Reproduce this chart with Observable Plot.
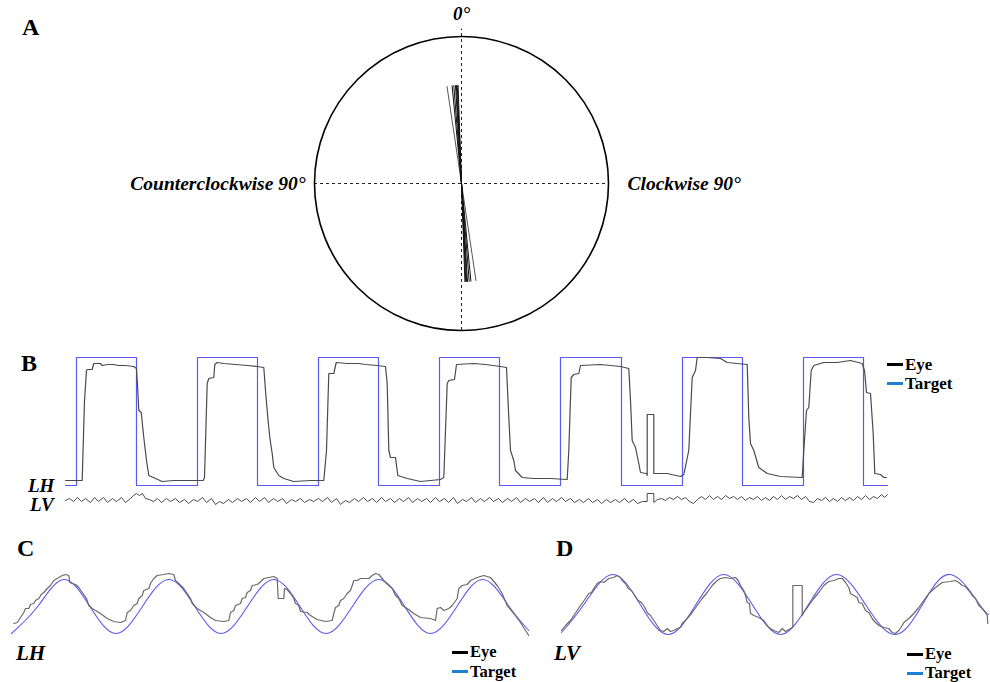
<!DOCTYPE html>
<html><head><meta charset="utf-8">
<script src="https://cdn.jsdelivr.net/npm/d3@7"></script>
<script src="https://cdn.jsdelivr.net/npm/@observablehq/plot@0.6"></script>
<style>
body{margin:0;background:#fff;}
#fig{position:relative;width:990px;height:682px;overflow:hidden;font-family:"Liberation Serif","Times New Roman",serif;color:#000;}
#fig svg{position:absolute;overflow:visible;}
</style></head><body><div id="fig"></div>
<script>
// ---------- DATA ----------
// Panel A: orientation of each recorded line (degrees from vertical; negative = counterclockwise)
const lineAnglesDeg = [-8.5, -5.5, -4.5, -3.5, -3, -2.5, -2];
const lineHalfLength = 0.67; // fraction of circle radius
const axisLabelsA = ["0°", "Counterclockwise 90°", "Clockwise 90°"];

// Panel B: square-wave target (time in samples, position in a.u.)
const targetBTimes  = [0, 11, 71, 132, 192, 253, 313, 374, 434, 495, 556, 617, 677, 738, 798, 822];
const targetBLevels = [-64, 64, -64, 64, -64, 64, -64, 64, -64, 64, -64, 64, -64, 64, -64, -64];

// Panel B: eye, horizontal channel (LH) [time, position]
const eyeBLH = [[0,-59],[16.7,-59],[19,21],[21,51],[21.7,52],[26.7,52],[28.3,58],[35,58],[36.7,56],[42,57],[48.3,57],[53,56],[60,56],[68.3,55],[71,53],[72.3,31],[73.3,11],[75.7,9],[78.3,-16],[81,-39],[83.3,-54],[90,-57],[96.7,-60],[108.3,-59],[121.7,-59],[131,-59],[137.7,-59],[139,-56],[141.7,38],[143.3,43],[148.3,44],[149.3,57],[151.7,59],[158.3,58],[170,57],[181.7,56],[191.7,55],[198.3,54],[200,31],[202.3,4],[204.3,-16],[206.7,-32],[208.3,-46],[213.3,-54],[218.3,-57],[228.3,-60],[245,-59],[258.3,-59],[261,-29],[263.3,48],[268.3,48],[270.7,59],[281.7,58],[293.3,58],[300,57],[311.7,56],[320,55],[321.7,38],[323.3,-29],[325,-36],[330,-36],[332.3,-54],[341.7,-57],[355,-60],[375,-58],[378.3,-56],[381.7,38],[383.3,41],[389,42],[391,57],[408.3,58],[420,57],[435,55],[441,54],[443.3,4],[445,-29],[448.3,-39],[450,-49],[456.7,-56],[468.3,-57],[485,-57],[501.7,-58],[503.3,-29],[505.7,44],[508.3,47],[513.3,48],[515,56],[535,57],[545,56],[555,55],[563.3,53],[565,21],[566.7,-19],[570,-26],[573.3,-42],[575,-51],[581,-52],[581.7,-54],[581.7,7],[588.3,7],[588.3,-52],[601.7,-52],[615,-55],[618.3,-53],[623.3,-29],[626.7,44],[630,51],[631.7,64],[641.7,64],[655,63],[661.7,59],[681.7,57],[683.3,4],[685,-22],[688.3,-29],[693.3,-46],[701.7,-52],[715,-55],[736.7,-56],[738.3,-29],[741,11],[743.3,14],[745.7,51],[748.3,56],[758.3,59],[771.7,59],[785,61],[796.7,58],[799,51],[801,29],[805,28],[807.7,-12],[809.3,-52],[815,-53],[818.3,-56],[821,-56]];

// Panel B: eye, vertical channel (LV) [time, position]
const eyeBLV = [[0,0],[4,2],[8,-1],[12,3],[16,-1],[20,2],[25,-2],[29,3],[33,-1],[38,3],[42,-2],[47,2],[51,-1],[56,3],[60,-2],[65,2],[68,5],[71,7],[74,5],[77,7],[80,2],[84,1],[88,-1],[92,2],[96,-2],[101,2],[105,-1],[110,2],[114,-2],[119,1],[123,-3],[128,1],[132,-1],[137,3],[141,-2],[146,2],[150,-4],[154,-1],[158,-3],[163,1],[167,-2],[172,2],[176,-1],[181,2],[185,-2],[190,3],[194,-1],[199,3],[203,-2],[208,2],[212,-1],[217,2],[221,-3],[226,1],[230,-1],[235,2],[239,-2],[244,1],[248,-1],[253,2],[257,-1],[262,3],[266,-2],[271,2],[275,-4],[280,0],[284,-2],[289,2],[293,-1],[298,3],[302,-1],[307,2],[311,-2],[316,3],[320,-1],[325,2],[329,-2],[334,2],[338,-1],[343,3],[347,-2],[352,2],[356,-1],[361,2],[365,-2],[370,3],[374,-1],[379,2],[383,-2],[388,3],[392,-3],[397,1],[401,-1],[406,3],[410,-2],[415,2],[419,-1],[424,3],[428,-1],[433,2],[437,-2],[442,2],[446,-1],[451,3],[455,-2],[460,2],[464,-1],[469,2],[473,-2],[478,3],[482,-2],[487,2],[491,-1],[496,3],[500,-1],[505,2],[509,-2],[514,1],[518,-2],[523,2],[527,-2],[532,1],[536,-3],[541,1],[545,-2],[550,1],[554,-2],[559,2],[563,-2],[568,1],[572,-3],[577,-1],[581.7,-1],[581.7,7],[588.3,7],[588.3,-2],[592,1],[596,2],[600,0],[604,3],[608,1],[612,4],[616,1],[620,3],[624,-1],[628,-3],[632,1],[636,4],[640,1],[644,5],[648,1],[652,4],[656,1],[660,5],[664,2],[668,4],[672,1],[676,4],[680,0],[684,3],[688,1],[692,4],[696,0],[700,3],[704,0],[708,4],[712,1],[716,5],[720,1],[724,4],[728,2],[732,5],[736,1],[740,4],[744,-1],[748,-2],[752,2],[756,0],[760,3],[764,-1],[768,2],[772,-1],[776,3],[780,0],[784,3],[788,0],[792,4],[796,1],[800,5],[804,1],[808,4],[812,2],[816,6],[819,3],[822,6]];

// Panel C: sinusoidal target, horizontal (key points: troughs, crossings, peaks)
const targetCTimes  = [1, 27.2, 53.3, 79.4, 105.5, 131.9, 158.3, 184.4, 210.5, 236.9, 263.3, 289.4, 315.5, 341.9, 368.3, 394.2, 420, 446.4, 472.7, 498.6, 518.3];
const targetCValues = [-27, 0, 27, 0, -27, 0, 27, 0, -27, 0, 27, 0, -27, 0, 27, 0, -27, 0, 27, 0, -24];
const eyeCLH = [[3.3,-17],[6.7,-16],[10,-11],[13.3,-6],[15,-2],[18.3,-2],[20,2],[23.3,3],[25,6],[28.3,8],[30.7,12],[33.3,14],[36.7,18],[40,21],[43.3,26],[46.7,28],[51.7,31],[55,32],[58.3,31],[59.3,24],[61.7,23],[65,22],[68.3,19],[71.7,14],[73.3,12],[76,8],[78.3,1],[81.7,-2],[85,-4],[90,-7],[96.7,-12],[103.3,-15],[110,-16],[115,-14],[116.7,-6],[120,-4],[123.3,1],[126.7,3],[128.3,8],[131.7,11],[133.3,16],[138.3,18],[140,23],[143.3,28],[146.7,31],[153.3,32],[158.3,33],[163.3,32],[165,26],[168.3,23],[173.3,18],[176.7,13],[180,8],[181.7,3],[186.7,-2],[193.3,-6],[200,-11],[205,-14],[213.3,-15],[218.3,-14],[220,-6],[223.3,-4],[225,1],[230,3],[231.7,8],[235,9],[236.7,14],[240,16],[241.7,21],[246.7,22],[249.3,24],[253.3,28],[258.3,29],[263.3,30],[266.7,28],[267.7,8],[273.3,8],[274,18],[276.7,17],[280,13],[283.3,8],[285,3],[288.3,1],[290,-5],[296.7,-6],[300,-9],[306.7,-13],[315,-15],[321.7,-14],[323.3,-7],[325,-1],[328.3,1],[330,6],[333.3,8],[336.7,13],[340,16],[341.7,21],[343.3,26],[346.7,26],[350,28],[358.3,28],[361.7,31],[365,33],[368.3,32],[371.7,28],[375,24],[378.3,21],[381.7,18],[385,11],[388.3,8],[391.7,1],[396.7,-2],[403.3,-7],[410,-11],[420,-12],[425,-14],[426.7,-2],[430,-1],[433.3,-4],[438.3,-2],[441.7,1],[446.7,8],[448.3,18],[451.7,21],[456.7,22],[460,26],[466.7,29],[473.3,31],[480,29],[486.7,21],[491.7,13],[496.7,1],[503.3,-7],[510,-16],[515,-24],[518.3,-29]];

// Panel D: sinusoidal target, vertical
const targetDTimes  = [6, 28.4, 56.7, 84.7, 112.7, 140.5, 168.3, 196.7, 225, 253, 281, 310, 339.3, 367, 395, 424, 433.3];
const targetDValues = [-28, 0, 30, 0, -30, 0, 30, 0, -30, 0, 30, 0, -30, 0, 30, 0, -10];
const eyeDLV = [[6,-26],[10,-21],[15,-16],[18.3,-11],[21.7,-6],[25,-1],[30,6],[33.3,11],[36,12],[38.3,16],[41.7,21],[45,23],[48.3,22],[53.3,26],[58.3,27],[61.7,29],[65,27],[66.7,24],[70,21],[72.7,16],[76,14],[79.3,9],[82.7,4],[86,2],[89.3,-3],[91.7,-8],[95,-11],[98.3,-16],[101.7,-21],[105,-26],[108.3,-27],[111.7,-24],[115,-27],[118.3,-26],[121.7,-24],[125,-23],[126.7,-19],[131.7,-14],[136.7,-8],[141.7,-1],[146.7,6],[151.7,12],[156.7,19],[161.7,24],[165,26],[170,27],[175,26],[180,27],[182.7,24],[185,19],[188.3,14],[190,9],[191.7,2],[194,1],[195,-9],[198.3,-11],[203.3,-13],[208.3,-16],[213.3,-23],[218.3,-26],[223.3,-28],[226.7,-24],[230,-27],[233.3,-25],[237.3,-23],[237.3,19],[246.7,19],[246.7,-11],[248.3,-8],[253.3,-1],[258.3,6],[263.3,12],[268.3,19],[273.3,23],[278.3,24],[283.3,26],[286.7,26],[290,22],[293.3,17],[295,11],[298.3,9],[301.7,7],[303.3,2],[306.7,1],[310,-6],[313.3,-8],[316.7,-14],[320,-18],[323.3,-21],[328.3,-23],[333.3,-24],[336.7,-28],[340,-29],[343.3,-26],[346.7,-21],[348.3,-18],[353.3,-14],[358.3,-9],[363.3,-3],[368.3,4],[373.3,11],[380,17],[386.7,22],[395,23],[400,24],[403.3,22],[406.7,19],[410,18],[413.3,14],[416.7,9],[420,6],[423.3,-1],[426.7,-4],[430,-8],[431.7,-11],[432.3,-19]];

const panelLetters = ["A", "B", "C", "D"];
const channelLabels = ["LH", "LV"];
const legendLabels = ["Eye", "Target"];

// ---------- STYLE ----------
const SERIF = '"Liberation Serif","Times New Roman",serif';
const TARGET_COLOR = "#5a5aee";
const EYE_COLOR_B = "#4a4a4a";
const EYE_COLOR_CD = "#6a6a6a";
const LEGEND_COLORS = ["#000000", "#1f7fd0"];
const fig = document.getElementById("fig");

function place(node, left, top) { node.style.left = left + "px"; node.style.top = top + "px"; fig.appendChild(node); }
function txt(s, left, baseline, size, italic) {
  const d = document.createElement("div");
  d.textContent = s;
  d.style.cssText = `position:absolute;left:${left}px;top:${baseline - 0.8375*size}px;font-size:${size}px;line-height:${size}px;font-weight:bold;white-space:nowrap;${italic ? "font-style:italic;" : ""}`;
  fig.appendChild(d);
}
function legend(left, y1, y2, size) {
  [y1, y2].forEach((y, i) => {
    const s = document.createElement("div");
    s.style.cssText = `position:absolute;left:${left}px;top:${y - 1.5}px;width:16px;height:3px;background:${LEGEND_COLORS[i]};`;
    fig.appendChild(s);
    txt(legendLabels[i], left + 18, y + 0.36*size, size, false);
  });
}
const pairs = arr => arr.map(([t, v]) => ({t, v}));
const zipTV = (ts, vs) => ts.map((t, i) => ({t, v: vs[i]}));

// ---------- PANEL A ----------
const linesA = lineAnglesDeg.map(a => {
  const r = a * Math.PI / 180;
  return {angle: a, x1: Math.sin(r)*lineHalfLength, y1: Math.cos(r)*lineHalfLength, x2: -Math.sin(r)*lineHalfLength, y2: -Math.cos(r)*lineHalfLength};
});
const plotA = Plot.plot({
  width: 990, height: 340, margin: 0,
  x: {domain: [-1, 1], range: [314, 608], axis: null},
  y: {domain: [-1, 1], range: [330, 36], axis: null},
  style: {fontFamily: SERIF, background: "transparent"},
  marks: [
    Plot.ruleY([{y: 0, x1: -1, x2: 1}], {y: "y", x1: "x1", x2: "x2", stroke: "#222", strokeWidth: 1, strokeDasharray: "3,3"}),
    Plot.ruleX([{x: 0, y1: -1, y2: 1.05}], {x: "x", y1: "y1", y2: "y2", stroke: "#222", strokeWidth: 1, strokeDasharray: "3,3"}),
    Plot.dot([{x: 0, y: 0}], {x: "x", y: "y", r: 147, stroke: "#000", strokeWidth: 1.6, fill: "none"}),
    Plot.link(linesA, {x1: "x1", y1: "y1", x2: "x2", y2: "y2", stroke: d => Math.abs(d.angle) > 6 ? "#444" : "#111", strokeWidth: d => Math.abs(d.angle) > 6 ? 0.9 : 1.0}),
    Plot.text([{x: 0, y: 1, s: axisLabelsA[0]}], {x: "x", y: "y", text: "s", dy: -23, fontSize: 19, fontWeight: "bold", fontStyle: "italic", fill: "#000"}),
    Plot.text([{x: -1, y: 0, s: axisLabelsA[1]}], {x: "x", y: "y", text: "s", dx: -9, textAnchor: "end", fontSize: 19.5, fontWeight: "bold", fontStyle: "italic", fill: "#000"}),
    Plot.text([{x: 1, y: 0, s: axisLabelsA[2]}], {x: "x", y: "y", text: "s", dx: 19, textAnchor: "start", fontSize: 19.5, fontWeight: "bold", fontStyle: "italic", fill: "#000"})
  ]
});
place(plotA, 0, 0);

// ---------- PANEL B ----------
const lvOffset = -79;
const plotB = Plot.plot({
  width: 990, height: 180, margin: 0,
  x: {domain: [0, 822], range: [65, 887], axis: null},
  y: {domain: [-64, 64], range: [145, 17], axis: null},
  style: {background: "transparent"},
  marks: [
    Plot.line(zipTV(targetBTimes, targetBLevels), {x: "t", y: "v", curve: "step-after", stroke: TARGET_COLOR, strokeWidth: 1.2}),
    Plot.line(pairs(eyeBLH), {x: "t", y: "v", stroke: EYE_COLOR_B, strokeWidth: 1.2}),
    Plot.line(pairs(eyeBLV), {x: "t", y: d => d.v + lvOffset, stroke: EYE_COLOR_B, strokeWidth: 1.0})
  ]
});
place(plotB, 0, 340);

// ---------- PANEL C ----------
const plotC = Plot.plot({
  width: 540, height: 85, margin: 0,
  x: {domain: [0, 520], range: [10, 530], axis: null},
  y: {domain: [-30, 30], range: [76, 16], axis: null},
  style: {background: "transparent"},
  marks: [
    Plot.line(zipTV(targetCTimes, targetCValues), {x: "t", y: "v", curve: "natural", stroke: TARGET_COLOR, strokeWidth: 1.1}),
    Plot.line(pairs(eyeCLH), {x: "t", y: "v", stroke: EYE_COLOR_CD, strokeWidth: 1.2})
  ]
});
place(plotC, 0, 560);

// ---------- PANEL D ----------
const plotD = Plot.plot({
  width: 440, height: 85, margin: 0,
  x: {domain: [0, 435], range: [5, 440], axis: null},
  y: {domain: [-30, 30], range: [74, 14], axis: null},
  style: {background: "transparent"},
  marks: [
    Plot.line(zipTV(targetDTimes, targetDValues), {x: "t", y: "v", curve: "natural", stroke: TARGET_COLOR, strokeWidth: 1.1}),
    Plot.line(pairs(eyeDLV), {x: "t", y: "v", stroke: EYE_COLOR_CD, strokeWidth: 1.2})
  ]
});
place(plotD, 550, 560);

// ---------- TEXT ----------
txt(panelLetters[0], 22, 35, 24, false);
txt(panelLetters[1], 21, 371, 24, false);
txt(panelLetters[2], 17, 556, 24, false);
txt(panelLetters[3], 556, 556, 24, false);
txt(channelLabels[0], 28, 491.5, 19, true);
txt(channelLabels[1], 30, 511, 19, true);
txt(channelLabels[0], 16, 661, 21, true);
txt(channelLabels[1], 554, 661, 21, true);
legend(887, 364, 383.5, 17);
legend(452, 652, 671.5, 16.5);
legend(907, 654, 673, 16.5);
</script></body></html>
